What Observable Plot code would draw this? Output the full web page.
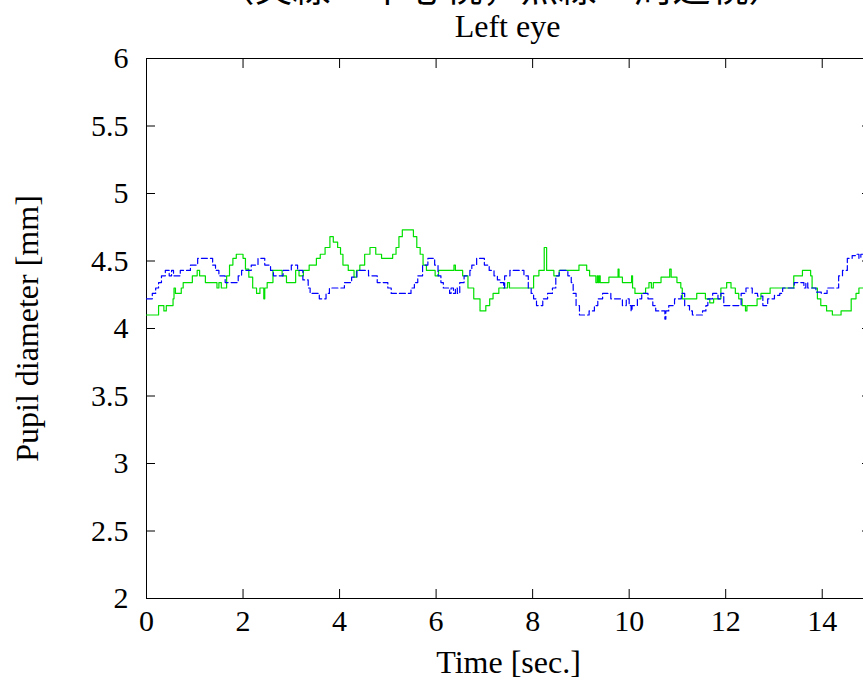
<!DOCTYPE html>
<html><head><meta charset="utf-8">
<script src="https://cdn.jsdelivr.net/npm/d3@7"></script>
<script src="https://cdn.jsdelivr.net/npm/@observablehq/plot@0.6"></script>
<style>
html,body{margin:0;padding:0;background:#fff;overflow:hidden;width:863px;height:682px;}
#head{position:relative;height:46px;width:863px;overflow:visible;}
#jp{position:absolute;left:0;width:1003px;text-align:center;top:-34px;font-family:"Noto Sans CJK JP";font-size:38px;line-height:38px;white-space:nowrap;}
#t2{position:absolute;left:0;width:1015px;text-align:center;top:10px;font-family:"Liberation Serif";font-size:32px;line-height:32px;white-space:nowrap;}
</style>
</head><body>
<div id="head"><div id="jp">（実線：中心視，点線：周辺視）</div><div id="t2">Left eye</div></div>
<div id="chart"></div>
<script>
const titleLines = ["（実線：中心視，点線：周辺視）", "Left eye"];
const xLabel = "Time [sec.]";
const yLabel = "Pupil diameter [mm]";
const xTicks = [0, 2, 4, 6, 8, 10, 12, 14];
const yTicks = [2, 2.5, 3, 3.5, 4, 4.5, 5, 5.5, 6];
const yTickLabels = ["2", "2.5", "3", "3.5", "4", "4.5", "5", "5.5", "6"];

// solid green: central vision
const green = [[0,4.10],[0.25,4.17],[0.36,4.13],[0.41,4.17],[0.55,4.22],[0.57,4.30],[0.60,4.26],[0.72,4.30],[0.76,4.34],[0.95,4.39],[1.05,4.43],[1.10,4.39],[1.22,4.34],[1.46,4.30],[1.50,4.34],[1.55,4.30],[1.66,4.39],[1.72,4.47],[1.79,4.52],[1.86,4.55],[2.00,4.52],[2.05,4.44],[2.12,4.38],[2.20,4.30],[2.28,4.26],[2.35,4.30],[2.43,4.22],[2.45,4.30],[2.50,4.34],[2.62,4.43],[2.81,4.39],[2.90,4.34],[3.09,4.43],[3.16,4.39],[3.25,4.43],[3.37,4.47],[3.52,4.52],[3.60,4.55],[3.70,4.60],[3.80,4.68],[3.87,4.64],[3.96,4.60],[4.02,4.55],[4.07,4.47],[4.18,4.43],[4.30,4.38],[4.35,4.43],[4.42,4.47],[4.52,4.55],[4.63,4.60],[4.75,4.55],[4.87,4.52],[5.10,4.55],[5.17,4.60],[5.23,4.68],[5.30,4.73],[5.53,4.68],[5.60,4.60],[5.67,4.55],[5.73,4.47],[5.80,4.43],[5.98,4.39],[6.05,4.43],[6.37,4.47],[6.40,4.43],[6.55,4.39],[6.66,4.30],[6.78,4.22],[6.91,4.13],[7.03,4.17],[7.11,4.22],[7.18,4.26],[7.30,4.30],[7.48,4.34],[7.52,4.30],[8.02,4.39],[8.13,4.43],[8.24,4.60],[8.29,4.43],[8.44,4.39],[8.55,4.43],[8.96,4.47],[9.12,4.43],[9.18,4.39],[9.31,4.34],[9.34,4.39],[9.36,4.34],[9.38,4.39],[9.40,4.34],[9.58,4.38],[9.77,4.44],[9.79,4.38],[9.86,4.34],[10.05,4.39],[10.07,4.30],[10.12,4.26],[10.34,4.30],[10.41,4.34],[10.46,4.30],[10.50,4.34],[10.66,4.38],[10.84,4.44],[10.87,4.38],[10.99,4.34],[11.07,4.30],[11.10,4.22],[11.40,4.26],[11.58,4.22],[11.67,4.19],[11.75,4.22],[11.90,4.30],[12.02,4.34],[12.11,4.30],[12.20,4.26],[12.27,4.22],[12.34,4.17],[12.41,4.13],[12.44,4.17],[12.65,4.22],[12.73,4.26],[12.92,4.30],[13.41,4.39],[13.59,4.43],[13.76,4.39],[13.79,4.30],[13.90,4.22],[13.97,4.17],[14.09,4.13],[14.21,4.10],[14.39,4.13],[14.60,4.22],[14.70,4.26],[14.76,4.30],[15.0,4.30]];

// dashed blue: peripheral vision
const blue = [[0,4.22],[0.12,4.26],[0.19,4.30],[0.25,4.34],[0.31,4.39],[0.39,4.43],[0.47,4.39],[0.52,4.43],[0.56,4.39],[0.70,4.43],[0.91,4.47],[1.06,4.52],[1.37,4.47],[1.43,4.43],[1.50,4.39],[1.63,4.34],[1.90,4.39],[1.97,4.43],[2.17,4.47],[2.31,4.52],[2.45,4.47],[2.57,4.43],[2.63,4.39],[2.83,4.43],[3.00,4.47],[3.13,4.43],[3.24,4.36],[3.35,4.30],[3.39,4.26],[3.58,4.22],[3.72,4.26],[3.79,4.30],[4.10,4.34],[4.25,4.38],[4.36,4.43],[4.60,4.39],[4.78,4.34],[5.00,4.30],[5.07,4.26],[5.48,4.30],[5.55,4.34],[5.62,4.39],[5.72,4.47],[5.83,4.52],[5.97,4.47],[6.04,4.39],[6.10,4.34],[6.15,4.30],[6.28,4.26],[6.31,4.30],[6.36,4.26],[6.40,4.30],[6.44,4.26],[6.49,4.34],[6.58,4.39],[6.70,4.43],[6.74,4.47],[6.84,4.52],[7.00,4.47],[7.10,4.43],[7.20,4.39],[7.27,4.36],[7.33,4.34],[7.40,4.30],[7.42,4.39],[7.53,4.43],[7.82,4.39],[7.91,4.30],[7.97,4.26],[8.02,4.22],[8.08,4.17],[8.21,4.22],[8.31,4.26],[8.41,4.30],[8.48,4.39],[8.55,4.43],[8.73,4.39],[8.80,4.34],[8.84,4.26],[8.90,4.17],[8.97,4.10],[9.17,4.13],[9.28,4.17],[9.35,4.22],[9.45,4.26],[9.62,4.22],[9.86,4.17],[9.94,4.22],[10.00,4.17],[10.04,4.13],[10.06,4.17],[10.17,4.22],[10.26,4.26],[10.39,4.22],[10.49,4.17],[10.55,4.13],[10.74,4.07],[10.76,4.13],[10.82,4.17],[10.94,4.22],[11.08,4.26],[11.15,4.17],[11.25,4.13],[11.31,4.10],[11.52,4.13],[11.59,4.17],[11.63,4.22],[11.73,4.26],[11.84,4.22],[11.90,4.26],[11.96,4.17],[12.32,4.26],[12.42,4.30],[12.55,4.26],[12.66,4.24],[12.77,4.17],[12.87,4.22],[13.01,4.245],[13.12,4.26],[13.18,4.30],[13.42,4.34],[13.62,4.30],[13.66,4.34],[13.70,4.30],[13.87,4.27],[13.98,4.26],[14.10,4.30],[14.34,4.39],[14.42,4.43],[14.52,4.52],[14.62,4.54],[14.69,4.55],[14.76,4.52],[14.80,4.55],[15.0,4.54]];

const toRows = a => a.map(([t, v]) => ({t, v}));
const fontSize = 30;
const tickLen = 9;

const chart = Plot.plot({
  width: 871,
  height: 636,
  marginTop: 12,
  marginBottom: 84,
  marginLeft: 146,
  marginRight: 1,
  style: `max-width:none;overflow:visible;font-family:'Liberation Serif',serif;font-size:${fontSize}px;color:#000;background:#fff;`,
  x: {domain: [0, 15]},
  y: {domain: [2, 6]},
  marks: [
    Plot.frame({stroke: "#000", strokeWidth: 1}),
    // inward ticks on all four sides
    Plot.axisY(yTicks, {anchor: "left", tickSize: tickLen, dx: tickLen, text: null, label: null}),
    Plot.axisY(yTicks, {anchor: "right", tickSize: tickLen, dx: -tickLen, text: null, label: null}),
    Plot.axisX(xTicks, {anchor: "bottom", tickSize: tickLen, dy: -tickLen, text: null, label: null}),
    Plot.axisX(xTicks, {anchor: "top", tickSize: tickLen, dy: tickLen, text: null, label: null}),
    // tick labels
    Plot.axisY(yTicks, {anchor: "left", tickSize: 0, tickPadding: 18, tickFormat: d => yTickLabels[yTicks.indexOf(d)], label: null, fontSize}),
    Plot.axisX(xTicks, {anchor: "bottom", tickSize: 0, tickPadding: 11, tickFormat: d => String(d), label: null, fontSize}),
    Plot.line(toRows(green), {x: "t", y: "v", curve: "step-after", stroke: "#00e000", strokeWidth: 1.2}),
    Plot.line(toRows(blue), {x: "t", y: "v", curve: "step-after", stroke: "#0000ff", strokeWidth: 1.2, strokeDasharray: "6,3"}),
    Plot.text([yLabel], {frameAnchor: "left", dx: -119, rotate: -90, textAnchor: "middle", lineAnchor: "middle", fontSize: 32, text: d => d}),
    Plot.text([xLabel], {frameAnchor: "bottom", dy: 64, textAnchor: "middle", lineAnchor: "middle", fontSize: 32, text: d => d})
  ]
});
document.getElementById("chart").appendChild(chart);
</script>
</body></html>
